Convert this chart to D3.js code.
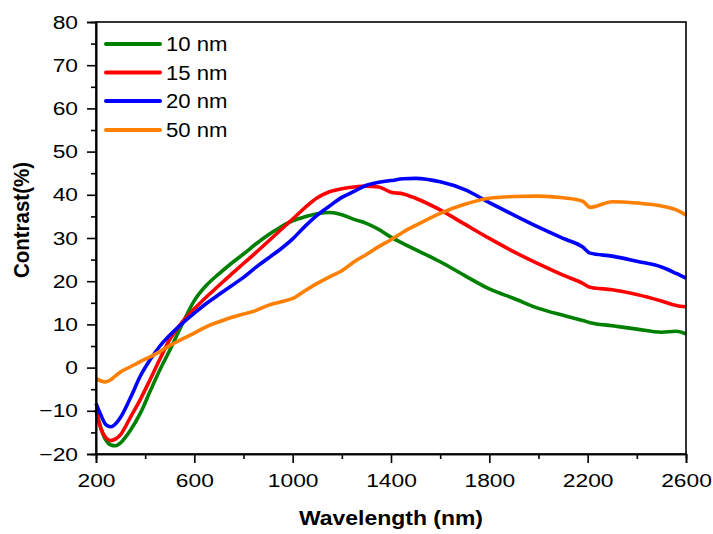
<!DOCTYPE html>
<html>
<head>
<meta charset="utf-8">
<script src="https://cdn.jsdelivr.net/npm/d3@7"></script>
<style>
  body { margin: 0; background: #fff; }
  text { font-family: "Liberation Sans", Arial, sans-serif; fill: #000; }
</style>
</head>
<body>
<script>
// wavelength grid (nm) shared by every series
const wavelength = [200, 220, 240, 260, 280, 300, 340, 380, 420, 460, 500, 550, 600, 650, 700, 750, 800, 850, 900, 950,
  1000, 1050, 1100, 1150, 1200, 1250, 1300, 1350, 1400, 1450, 1500, 1600, 1700, 1800, 1900, 2000, 2100, 2180, 2210,
  2300, 2400, 2500, 2560, 2600]

const c10 = [-9.8, -14, -16.8, -17.9, -18.1, -17.4, -14.5, -10.6, -5.5, -0.5, 4.0, 10.0, 15.5, 19.1, 21.7, 24.1, 26.3, 28.6, 30.7, 32.5,
  34.0, 34.9, 35.6, 35.9, 35.4, 34.3, 33.4, 32.0, 30.2, 28.7, 27.3, 24.5, 21.3, 18.2, 16.0, 13.7, 12.1, 10.9, 10.4,
  9.7, 8.9, 8.2, 8.4, 7.8]
const c15 = [-9.8, -14.2, -16.2, -16.9, -16.5, -15.5, -11.5, -7.4, -2.8, 2.0, 6.5, 10.5, 13.6, 16.4, 19.0, 21.6, 24.1, 26.6, 29.2, 31.8,
  34.4, 37.0, 39.3, 40.7, 41.4, 41.8, 42.0, 41.8, 40.6, 40.2, 39.2, 36.5, 33.2, 29.9, 26.8, 24.0, 21.4, 19.5, 18.6,
  18.0, 16.9, 15.4, 14.4, 14.1]
const c20 = [-8.3, -11.0, -13.2, -13.7, -13.0, -11.5, -7.0, -2.0, 1.8, 5.0, 7.5, 10.2, 12.6, 14.9, 16.9, 18.9, 20.9, 23.2, 25.3, 27.4,
  29.8, 32.7, 35.3, 37.4, 39.4, 40.8, 42.2, 42.9, 43.3, 43.7, 43.8, 43.0, 41.2, 38.2, 35.3, 32.5, 29.9, 27.9, 26.5,
  25.8, 24.6, 23.3, 21.8, 20.7]
const c50 = [-2.5, -3.1, -3.3, -2.8, -1.9, -1.0, 0.2, 1.4, 2.5, 3.7, 5.1, 6.6, 8.0, 9.5, 10.6, 11.6, 12.4, 13.2, 14.4, 15.2,
  16.0, 17.8, 19.5, 21.0, 22.4, 24.5, 26.2, 28.0, 29.6, 31.4, 32.9, 35.7, 37.8, 39.2, 39.6, 39.7, 39.3, 38.5, 37.1,
  38.4, 38.1, 37.4, 36.5, 35.3]

const seriesNames = ["10 nm", "15 nm", "20 nm", "50 nm"]
const seriesValues = [c10, c15, c20, c50]
const seriesColors = ["#008000", "#ff0000", "#0000ff", "#ff8000"]

const xTicks = [200, 600, 1000, 1400, 1800, 2200, 2600]
const xMinor = [400, 800, 1200, 1600, 2000, 2400]
const yTicks = [-20, -10, 0, 10, 20, 30, 40, 50, 60, 70, 80]
const yMinor = [-15, -5, 5, 15, 25, 35, 45, 55, 65, 75]

var width = 713
var height = 534
var margin = { top: 22, right: 27, bottom: 80, left: 96 }

var x = d3.scaleLinear().domain([200, 2600]).range([margin.left, width - margin.right])
var y = d3.scaleLinear().domain([-20, 80]).range([height - margin.bottom, margin.top])

var svg = d3.select("body").append("svg")
    .attr("width", width)
    .attr("height", height)

// lines
var line = d3.line()
    .x(function (d) { return x(d[0]) })
    .y(function (d) { return y(d[1]) })
    .curve(d3.curveMonotoneX)

seriesValues.forEach(function (vals, i) {
    var data = wavelength.map(function (w, j) { return [w, vals[j]] })
    svg.append("path")
        .attr("d", line(data))
        .attr("fill", "none")
        .attr("stroke", seriesColors[i])
        .attr("stroke-width", 3.6)
        .attr("stroke-linejoin", "round")
})

// frame
svg.append("rect")
    .attr("x", margin.left)
    .attr("y", margin.top)
    .attr("width", width - margin.left - margin.right)
    .attr("height", height - margin.top - margin.bottom)
    .attr("fill", "none")
    .attr("stroke", "#000")
    .attr("stroke-width", 1.6)

// axes
svg.append("g")
    .attr("transform", "translate(0," + (height - margin.bottom) + ")")
    .call(d3.axisBottom(x).tickValues(xTicks).tickSize(9).tickPadding(11).tickFormat(d3.format("d")))
svg.append("g")
    .attr("transform", "translate(0," + (height - margin.bottom) + ")")
    .call(d3.axisBottom(x).tickValues(xMinor).tickSize(5).tickFormat(""))

svg.append("g")
    .attr("transform", "translate(" + margin.left + ",0)")
    .call(d3.axisLeft(y).tickValues(yTicks).tickSize(9).tickPadding(6).tickFormat(d3.format("d")))
svg.append("g")
    .attr("transform", "translate(" + margin.left + ",0)")
    .call(d3.axisLeft(y).tickValues(yMinor).tickSize(5).tickFormat(""))

svg.selectAll(".domain").attr("stroke-width", 1.6)
svg.selectAll(".tick line").attr("stroke-width", 1.6)
svg.selectAll(".tick text")
    .attr("font-size", 19)
    .attr("font-family", "'Liberation Sans', Arial, sans-serif")
    .attr("transform", "scale(1.2,1)")

// axis titles
svg.append("text")
    .attr("transform", "translate(" + (margin.left + width - margin.right) / 2 + ",525) scale(1.12,1)")
    .attr("text-anchor", "middle")
    .attr("font-size", 20.5)
    .attr("font-weight", "bold")
    .text("Wavelength (nm)")

svg.append("text")
    .attr("transform", "translate(29,220) scale(1.12,1) rotate(-90)")
    .attr("text-anchor", "middle")
    .attr("font-size", 20.5)
    .attr("font-weight", "bold")
    .text("Contrast(%)")

// legend
var legendY = [44, 72.5, 101, 130]
seriesNames.forEach(function (name, i) {
    svg.append("line")
        .attr("x1", 106).attr("x2", 160)
        .attr("y1", legendY[i]).attr("y2", legendY[i])
        .attr("stroke", seriesColors[i])
        .attr("stroke-width", 4)
        .attr("stroke-linecap", "round")
    svg.append("text")
        .attr("transform", "translate(166," + legendY[i] + ") scale(1.08,1)")
        .attr("dy", "0.36em")
        .attr("font-size", 20.5)
        .text(name)
})
</script>
</body>
</html>
